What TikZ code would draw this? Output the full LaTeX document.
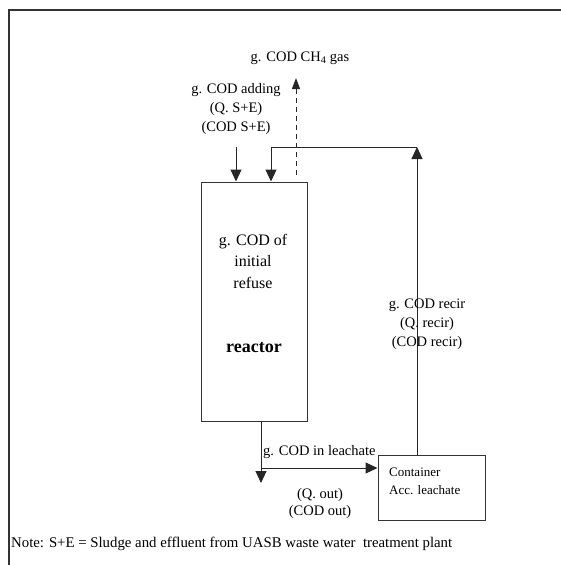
\documentclass[tikz,border=0pt]{standalone}
\usepackage{fontspec}
\setmainfont{Liberation Serif}
\usetikzlibrary{arrows.meta}
\begin{document}
\begin{tikzpicture}[x=1pt,y=-1pt,
  flow/.style={line width=1pt,draw=black!85,-{Triangle[length=12pt,width=11pt]}},
  boxed/.style={draw=black!80,line width=1pt,inner sep=0pt},
  lbl/.style={align=center,inner sep=0pt,font=\fontsize{14.5}{19}\selectfont},
  lbltwo/.style={align=center,inner sep=0pt,font=\fontsize{14.5}{17}\selectfont},
  frameline/.style={line width=1.8pt,draw=black!80}]
\useasboundingbox (0,0) rectangle (561,565);
% frame
\coordinate (fbl) at (9,565);
\coordinate (ftl) at (9,10);
\coordinate (ftr) at (561,10);
\draw[frameline] (fbl) -- (ftl) -- (ftr);
% boxes
\node[boxed,minimum width=106pt,minimum height=239pt] (reactor) at (254,301.5) {};
\node[boxed,minimum width=107pt,minimum height=65pt] (container) at (431.5,487.5) {};
% reactor texts
\node[align=center,inner sep=0pt,font=\fontsize{16}{21.5}\selectfont] (initial) at (253,261) {g. COD of\\initial\\refuse};
\node[inner sep=0pt,font=\bfseries\fontsize{18}{20}\selectfont] (reactorlbl) at (254,348) {reactor};
\node[anchor=west,align=left,inner sep=0pt,font=\fontsize{13}{18}\selectfont] (contlbl) at (389,481) {Container\\Acc. leachate};
% coordinates
\coordinate (addtop) at (236,147);
\coordinate (rec) at (417,147);
\coordinate (retx) at (271,147);
\coordinate (gastop) at (296,78);
\coordinate (junc) at (261,468);
\coordinate (outend) at (261,483);
% connectors
\draw[flow] (addtop) -- (addtop |- reactor.north);
\draw[flow] (rec |- container.north) -- (rec);
\draw[flow] (rec) -- (retx) -- (retx |- reactor.north);
\draw[flow,dashed,dash pattern=on 5pt off 4pt,shorten <=7pt,-{Triangle[length=11pt,width=8pt]}] (gastop |- reactor.north) -- (gastop);
\draw[flow] (junc |- reactor.south) -- (outend);
\draw[flow] (junc) -- (junc -| container.west);
% labels
\node[lbl] (gaslbl) at (300,58) {g. COD CH\textsubscript{4} gas};
\node[lbl] (addlbl) at (236,109) {g. COD adding\\(Q. S+E)\\(COD S+E)};
\node[lbl] (reclbl) at (427,324) {g. COD recir\\(Q. recir)\\(COD recir)};
\node[lbl,anchor=west] (leachlbl) at (263,452) {g. COD in leachate};
\node[lbltwo] (outlbl) at (320,503.5) {(Q. out)\\(COD out)};
\node[anchor=west,inner sep=0pt,font=\fontsize{14.8}{18}\selectfont] (note) at (11,544) {Note: S+E = Sludge and effluent from UASB waste water \ treatment plant};
\end{tikzpicture}
\end{document}
